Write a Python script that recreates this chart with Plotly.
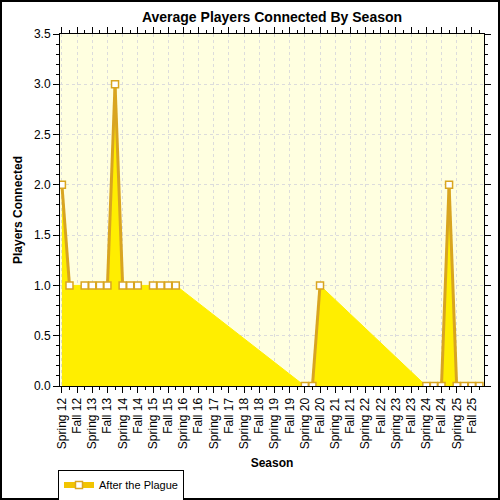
import plotly.graph_objects as go

# labels shown under the major ticks (one every second data slot)
tick_labels = ["Spring 12", "Fall 12", "Spring 13", "Fall 13", "Spring 14", "Fall 14",
               "Spring 15", "Fall 15", "Spring 16", "Fall 16", "Spring 17", "Fall 17",
               "Spring 18", "Fall 18", "Spring 19", "Fall 19", "Spring 20", "Fall 20",
               "Spring 21", "Fall 21", "Spring 22", "Fall 22", "Spring 23", "Fall 23",
               "Spring 24", "Fall 24", "Spring 25", "Fall 25"]

# average players per slot, None = no data (gap gets bridged by the line)
players = [2, 1, None, 1, 1, 1, 1, 3, 1, 1, 1, None, 1, 1, 1, 1,
           None, None, None, None, None, None, None, None,
           None, None, None, None, None, None, None, None,
           0, 0, 1,
           None, None, None, None, None, None, None, None, None, None, None, None, None,
           0, 0, 0, 2, 0, 0, 0, 0]

x = list(range(len(players)))

FONT = "Liberation Sans"
GOLD = "#D9A520"
YELLOW = "#FFEE00"

# darker edge only between neighbouring real points that change value
seg_x, seg_y = [], []
for i in range(len(players) - 1):
    a, b = players[i], players[i + 1]
    if a is not None and b is not None and a != b:
        seg_x += [x[i], x[i + 1], None]
        seg_y += [a, b, None]

fig = go.Figure()

fig.add_trace(go.Scatter(
    x=x, y=players, mode="lines", connectgaps=True,
    fill="tozeroy", fillcolor=YELLOW,
    line=dict(color=YELLOW, width=1),
    showlegend=False, hoverinfo="skip"
))

fig.add_trace(go.Scatter(
    x=seg_x, y=seg_y, mode="lines",
    line=dict(color=GOLD, width=3),
    showlegend=False, hoverinfo="skip"
))

fig.add_trace(go.Scatter(
    x=x, y=players, mode="markers",
    marker=dict(symbol="square", size=7, color="white",
                line=dict(color=GOLD, width=1.5)),
    showlegend=False
))

# legend entry only
fig.add_trace(go.Scatter(
    x=[None], y=[None], mode="lines+markers", name="After the Plague",
    line=dict(color="#F2C400", width=6),
    marker=dict(symbol="square", size=7, color="white",
                line=dict(color=GOLD, width=1.5))
))

W, H = 500, 500
L, R, T, B = 60, 16, 34, 114
pw, ph = W - L - R, H - T - B

axis_common = dict(
    showline=True, linecolor="black", linewidth=1, mirror="allticks",
    ticks="outside", ticklen=6, tickcolor="black",
    showgrid=True, gridcolor="#DCDCDC", griddash="dot", gridwidth=1,
    zeroline=False, automargin=False,
    tickfont=dict(family=FONT, size=12, color="black"),
)

fig.update_layout(
    width=W, height=H, autosize=False,
    margin=dict(l=L, r=R, t=T, b=B, autoexpand=False),
    paper_bgcolor="white",
    plot_bgcolor="#FFFFE0",
    title=dict(text="Average Players Connected By Season",
               x=0.5, xref="paper", y=1 - 17 / H, yanchor="middle",
               font=dict(family=FONT, size=14, color="black", weight="bold")),
    xaxis=dict(
        axis_common,
        range=[-0.25, 55.6],
        tickmode="array", tickvals=x[::2], ticktext=tick_labels,
        tickangle=-90,
        minor=dict(tickvals=x[1::2], ticks="outside", ticklen=3,
                   tickcolor="black", showgrid=False),
        title=dict(text="Season", standoff=10,
                   font=dict(family=FONT, size=12, color="black", weight="bold")),
    ),
    yaxis=dict(
        axis_common,
        range=[0, 3.5], dtick=0.5, tick0=0, tickformat=".1f",
        minor=dict(dtick=0.1, ticks="outside", ticklen=3,
                   tickcolor="black", showgrid=False),
        title=dict(text="Players Connected", standoff=8,
                   font=dict(family=FONT, size=12, color="black", weight="bold")),
    ),
    legend=dict(
        x=-2 / pw, y=-(485 - (T + ph)) / ph, xanchor="left", yanchor="middle",
        bgcolor="white", bordercolor="black", borderwidth=1,
        font=dict(family=FONT, size=11, color="black"),
        itemwidth=30, tracegroupgap=0,
    ),
    shapes=[dict(
        type="rect", xref="paper", yref="paper",
        x0=(1 - L) / pw, x1=(W - 1 - L) / pw,
        y0=-(H - 1 - T - ph) / ph, y1=(T + ph - 1) / ph,
        line=dict(color="black", width=2), layer="above",
    )],
)

# drop the default body margin so the 500x500 figure fills the window
fig.write_html("out.html",
               config={"displayModeBar": False, "responsive": False},
               post_script="document.body.style.margin='0';")
